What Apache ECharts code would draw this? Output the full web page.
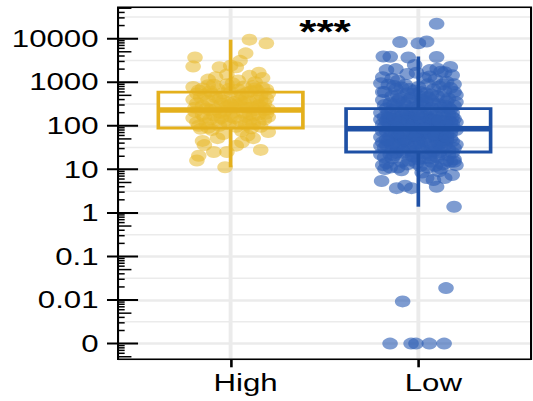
<!DOCTYPE html>
<html>
<head>
<meta charset="utf-8">
<script src="https://cdn.jsdelivr.net/npm/echarts@6/dist/echarts.min.js"></script>
<style>
  html, body { margin: 0; padding: 0; background: #fff; overflow: hidden; }
  /* the figure is drawn narrow and stretched sideways, as in the exported image */
  #chart { width: 410px; height: 401px; transform: scaleX(1.3); transform-origin: 0 0; }
</style>
</head>
<body>
<div id="chart"></div>
<script>
// ---- data -------------------------------------------------------------
const groups = ['High', 'Low'];

// [horizontal jitter offset, value]
const highPoints = [
  [0.10, 9500], [0.19, 7800], [0.08, 4600], [-0.19, 3700], [-0.20, 2300], [-0.06, 2200],
  [0.00, 2400], [0.03, 2200], [0.15, 1650], [-0.08, 1300], [0.13, 1000], [-0.20, 780],
  [0.05, 3100], [0.10, 1400], [-0.12, 1150], [0.17, 1250], [-0.02, 1500],
  [-0.03, 11.2], [-0.18, 16], [-0.17, 20.5], [0.16, 28], [-0.14, 36], [-0.02, 25],
  [-0.09, 25], [0.03, 35], [0.20, 72], [0.12, 52], [-0.07, 52], [0.06, 42], [-0.15, 45],
  [0.09, 60], [-0.04, 65],
  [-0.18, 120], [-0.15, 180], [-0.12, 90], [-0.10, 300], [-0.08, 450], [-0.05, 150],
  [-0.03, 220], [0.00, 600], [0.02, 350], [0.05, 130], [0.07, 800], [0.09, 260],
  [0.12, 170], [0.14, 420], [0.16, 95], [0.18, 330], [0.20, 550], [-0.20, 400],
  [-0.17, 650], [-0.13, 250], [-0.11, 140], [-0.07, 700], [-0.04, 380], [-0.01, 110],
  [0.01, 200], [0.04, 480], [0.06, 270], [0.08, 160], [0.11, 620], [0.13, 230],
  [0.15, 120], [0.17, 750], [0.19, 190], [-0.19, 210], [-0.16, 85], [-0.14, 520],
  [-0.09, 175], [-0.06, 100], [-0.02, 900], [0.03, 300], [0.06, 75], [0.10, 360],
  [0.14, 280], [0.18, 140], [0.20, 240], [-0.18, 330], [-0.12, 850], [-0.08, 240],
  [-0.04, 560], [0.00, 160], [0.04, 680], [0.08, 430], [0.12, 110], [0.16, 500],
  [-0.15, 290], [-0.10, 80], [-0.05, 320], [0.01, 950], [0.07, 200], [0.11, 88],
  [0.15, 300], [-0.20, 150], [-0.16, 450], [-0.03, 130], [0.02, 260], [0.09, 580],
  [0.19, 420], [-0.11, 620], [-0.06, 205], [0.05, 380], [0.13, 720], [-0.01, 340],
  [0.17, 260], [-0.13, 115], [0.10, 185],
  [-0.19, 260], [-0.14, 160], [-0.10, 540], [-0.06, 420], [-0.02, 280], [0.02, 150],
  [0.06, 520], [0.10, 125], [0.14, 650], [0.18, 230], [-0.17, 100], [-0.12, 380],
  [-0.07, 135], [-0.01, 700], [0.03, 95], [0.07, 340], [0.11, 260], [0.15, 180],
  [0.19, 680], [-0.09, 880], [0.04, 1100], [-0.15, 720], [0.12, 820], [-0.04, 190],
  [0.08, 105], [0.16, 380], [-0.18, 550], [0.00, 310], [-0.11, 230], [0.20, 160]
];

const lowPoints = [
  // upper tail
  [0.097, 22000], [-0.098, 8350], [0.00, 7800], [0.044, 8600], [-0.187, 3900], [-0.15, 3850],
  [-0.054, 3700], [0.097, 3800], [0.17, 2250], [0.10, 2050], [0.06, 1900], [-0.12, 2000],
  [0.14, 1700], [-0.02, 2500],
  // lower tail
  [0.19, 1.39], [-0.178, 10.2], [-0.196, 5.4], [-0.116, 3.7], [-0.071, 4.2], [-0.036, 3.7],
  [0.097, 4.0], [0.08, 5.7], [0.14, 6.3], [0.18, 7.4], [0.20, 12.5], [0.19, 15],
  [0.044, 6.3], [0.147, 0.0188], [-0.084, 0.0093],
  [-0.151, 0], [-0.039, 0], [-0.013, 0], [0.058, 0], [0.137, 0],
  // 1000 - 2000
  [-0.17, 1900], [0.12, 1750], [-0.06, 1550], [0.18, 1450], [-0.19, 1300], [0.03, 1250],
  [0.09, 1150], [-0.11, 1080], [0.15, 1020], [-0.01, 1650], [-0.14, 1200], [0.06, 1350],
  // 400 - 1000
  [-0.20, 950], [-0.16, 880], [-0.13, 820], [-0.09, 760], [-0.05, 700], [-0.02, 650],
  [0.01, 600], [0.04, 560], [0.07, 520], [0.10, 480], [0.13, 450], [0.16, 420],
  [0.19, 900], [-0.18, 600], [-0.14, 480], [-0.10, 420], [-0.07, 880], [-0.03, 540],
  [0.00, 780], [0.05, 900], [0.08, 680], [0.11, 800], [0.14, 620], [0.17, 740],
  [0.20, 510], [-0.04, 440], [0.02, 460], [-0.12, 690],
  // 150 - 400
  [-0.19, 390], [-0.17, 250], [-0.15, 330], [-0.13, 180], [-0.11, 370], [-0.09, 220],
  [-0.07, 300], [-0.05, 160], [-0.03, 260], [-0.01, 350], [0.01, 190], [0.03, 280],
  [0.05, 230], [0.07, 380], [0.09, 170], [0.11, 310], [0.13, 210], [0.15, 360],
  [0.17, 240], [0.19, 290], [-0.20, 200], [-0.16, 155], [-0.12, 270], [-0.08, 340],
  [-0.04, 210], [0.00, 240], [0.04, 165], [0.08, 320], [0.12, 260], [0.16, 185],
  [0.20, 350], [-0.18, 300], [-0.14, 230], [-0.06, 190], [0.02, 390], [0.06, 150],
  [0.10, 200], [0.14, 290], [0.18, 160], [-0.10, 160],
  // 60 - 150
  [-0.20, 140], [-0.18, 95], [-0.16, 120], [-0.14, 70], [-0.12, 130], [-0.10, 85],
  [-0.08, 110], [-0.06, 65], [-0.04, 145], [-0.02, 90], [0.00, 125], [0.02, 75],
  [0.04, 100], [0.06, 140], [0.08, 80], [0.10, 115], [0.12, 62], [0.14, 105],
  [0.16, 135], [0.18, 88], [0.20, 120], [-0.19, 75], [-0.15, 105], [-0.11, 60],
  [-0.07, 125], [-0.03, 80], [0.01, 60], [0.05, 90], [0.09, 135], [0.13, 78],
  [0.17, 68], [-0.17, 130], [-0.13, 88], [-0.09, 140], [-0.05, 98], [-0.01, 70],
  [0.03, 120], [0.07, 108], [0.11, 92], [0.15, 64], [0.19, 145], [-0.12, 100],
  [-0.02, 135], [0.08, 72], [0.18, 112], [-0.06, 82], [0.03, 66], [0.14, 128],
  // 25 - 60
  [-0.20, 55], [-0.18, 32], [-0.16, 45], [-0.14, 28], [-0.12, 50], [-0.10, 38],
  [-0.08, 27], [-0.06, 42], [-0.04, 58], [-0.02, 35], [0.00, 48], [0.02, 30],
  [0.04, 52], [0.06, 40], [0.08, 26], [0.10, 46], [0.12, 34], [0.14, 56],
  [0.16, 29], [0.18, 44], [0.20, 37], [-0.19, 42], [-0.15, 58], [-0.11, 30],
  [-0.07, 48], [-0.03, 26], [0.01, 40], [0.05, 33], [0.09, 55], [0.13, 42],
  [0.17, 52], [-0.17, 36], [-0.13, 40], [-0.09, 52], [-0.05, 31], [-0.01, 57],
  [0.03, 44], [0.07, 28], [0.11, 38], [0.15, 47], [0.19, 31], [-0.08, 45],
  // 8 - 25
  [-0.20, 22], [-0.17, 14], [-0.14, 18], [-0.11, 11], [-0.08, 24], [-0.05, 16],
  [-0.02, 20], [0.01, 12], [0.04, 23], [0.07, 15], [0.10, 19], [0.13, 13],
  [0.16, 21], [0.19, 17], [-0.18, 19], [-0.12, 24], [-0.06, 13], [0.00, 17],
  [0.06, 21], [0.12, 10.5], [0.18, 24], [-0.15, 11], [-0.09, 15], [-0.03, 23],
  [0.03, 18], [0.09, 12], [0.15, 16], [-0.19, 12.5], [-0.01, 14], [0.11, 22],
  [-0.13, 21], [0.05, 11], [-0.09, 9.5], [0.02, 8.5], [0.11, 9],
  // further points across the dense core
  [-0.19, 600], [-0.15, 150], [-0.11, 90], [-0.07, 45], [-0.03, 20], [0.01, 320],
  [0.05, 70], [0.09, 35], [0.13, 170], [0.17, 15], [0.19, 600], [-0.17, 75],
  [-0.13, 310], [-0.09, 28], [-0.05, 130], [-0.01, 40], [0.03, 200], [0.07, 60],
  [0.11, 25], [0.15, 100], [-0.20, 35], [-0.16, 200], [-0.12, 65], [-0.08, 180],
  [-0.04, 90], [0.00, 30], [0.04, 350], [0.08, 140], [0.12, 48], [0.16, 260],
  [0.20, 80], [-0.18, 160], [-0.14, 38], [-0.10, 120], [-0.06, 550], [-0.02, 60],
  [0.02, 110], [0.06, 18], [0.10, 75], [0.14, 36], [0.18, 200], [-0.19, 110],
  [-0.15, 22], [-0.11, 500], [-0.07, 230], [-0.03, 100], [0.01, 150], [0.05, 450],
  [0.09, 62], [0.13, 900], [0.17, 120], [-0.17, 48], [-0.13, 140], [-0.09, 68],
  [-0.05, 380], [-0.01, 180], [0.03, 85], [0.07, 250], [0.11, 130], [0.15, 55]
];

// box statistics: [lower whisker, Q1, median, Q3, upper whisker]
const highBox = [11.2, 89, 229, 590, 9500];
const lowBox = [1.39, 25, 86, 247, 3900];

const yTickValues = [0.001, 0.01, 0.1, 1, 10, 100, 1000, 10000];
const yTickLabels = ['0', '0.01', '0.1', '1', '10', '100', '1000', '10000'];
const zeroFloor = 0.001;          // zero values sit on the "0" row
const significance = '***';

// ---- styling ----------------------------------------------------------
const FONT = "'Liberation Sans', Arial, Helvetica, sans-serif";
const pointColors = ['#E8B828', '#2F60B4'];
const boxColors = ['#E4B01C', '#1E50A5'];
const yMin = Math.pow(10, -3.36), yMax = Math.pow(10, 4.72);
const W = 410, H = 401;
const plot = { left: 90.8, top: 7.3, right: 408.5, bottom: 359.3 };
const bandGrid = { left: 105.2, right: 16 };

const chart = echarts.init(document.getElementById('chart'), null, { renderer: 'svg', width: W, height: H });

function yLabel(v) {
  const e = Math.log10(v), r = Math.round(e);
  if (Math.abs(e - r) > 1e-6) return '';
  const i = yTickValues.findIndex(t => Math.abs(Math.log10(t) - r) < 1e-6);
  return i < 0 ? '' : yTickLabels[i];
}

const jittered = (pts, centre) => pts.map(([dx, v]) => [centre + dx, Math.max(v, zeroFloor)]);

chart.setOption({
  animation: false,
  grid: [
    { left: plot.left, top: plot.top, right: W - plot.right, bottom: H - plot.bottom, containLabel: false },
    { left: bandGrid.left, top: plot.top, right: bandGrid.right, bottom: H - plot.bottom, containLabel: false }
  ],
  xAxis: [
    { type: 'value', gridIndex: 0, min: 0.4, max: 2.6, show: false },
    {
      type: 'category', gridIndex: 1, data: groups, boundaryGap: true,
      axisLine: { show: false },
      axisTick: { show: true, alignWithLabel: true, length: 8, lineStyle: { color: '#000', width: 2 } },
      axisLabel: { color: '#000', fontSize: 24, fontFamily: FONT, margin: 12, padding: [0, 0, 0, 23] },
      splitLine: { show: false }
    }
  ],
  yAxis: [
    {
      type: 'log', logBase: 10, gridIndex: 0, min: yMin, max: yMax,
      axisLine: { show: false }, axisTick: { show: false },
      axisLabel: { color: '#000', fontSize: 24, fontFamily: FONT, margin: 15,
                   showMinLabel: false, showMaxLabel: false, formatter: yLabel },
      splitLine: { show: true, lineStyle: { color: '#EBEBEB', width: 2.5 } }
    },
    { type: 'log', logBase: 10, gridIndex: 1, min: yMin, max: yMax, show: false }
  ],
  series: [
    {
      name: 'High', type: 'scatter', xAxisIndex: 0, yAxisIndex: 0, silent: true, z: 2,
      data: jittered(highPoints, 1), symbolSize: 12,
      itemStyle: { color: pointColors[0], opacity: 0.55 }
    },
    {
      name: 'Low', type: 'scatter', xAxisIndex: 0, yAxisIndex: 0, silent: true, z: 2,
      data: jittered(lowPoints, 2), symbolSize: 12,
      itemStyle: { color: pointColors[1], opacity: 0.62 }
    },
    {
      name: 'box', type: 'custom', xAxisIndex: 1, yAxisIndex: 1, silent: true, z: 5,
      encode: { x: 0, y: [1, 2, 3, 4, 5] },
      data: [[0].concat(highBox), [1].concat(lowBox)],
      renderItem: function (params, api) {
        const idx = api.value(0);
        const cx = api.coord([idx, api.value(3)])[0];
        const half = api.size([1, 0])[0] * 0.385;
        const yLo = api.coord([idx, api.value(1)])[1];
        const yQ1 = api.coord([idx, api.value(2)])[1];
        const yMed = api.coord([idx, api.value(3)])[1];
        const yQ3 = api.coord([idx, api.value(4)])[1];
        const yHi = api.coord([idx, api.value(5)])[1];
        const c = boxColors[idx];
        const st = { stroke: c, lineWidth: 2.8, fill: null };
        return {
          type: 'group',
          children: [
            { type: 'line', shape: { x1: cx, y1: yHi, x2: cx, y2: yQ3 }, style: st },
            { type: 'line', shape: { x1: cx, y1: yQ1, x2: cx, y2: yLo }, style: st },
            { type: 'rect', shape: { x: cx - half, y: yQ3, width: 2 * half, height: yQ1 - yQ3 }, style: st },
            { type: 'line', shape: { x1: cx - half, y1: yMed, x2: cx + half, y2: yMed },
              style: { stroke: c, lineWidth: 5.5 } }
          ]
        };
      }
    }
  ]
});

// ---- panel decorations: minor grid, category grid, log ticks, frame ----
const yPx = v => chart.convertToPixel({ yAxisIndex: 0 }, v);
const elems = [];

for (let k = -4; k <= 4; k++) {
  const v = Math.pow(10, k + 0.5);
  if (v <= yMin || v >= yMax) continue;
  const y = yPx(v);
  elems.push({ type: 'line', z: 0, silent: true,
    shape: { x1: plot.left, y1: y, x2: plot.right, y2: y },
    style: { stroke: '#EBEBEB', lineWidth: 1.5 } });
}

groups.forEach(g => {
  const x = chart.convertToPixel({ xAxisIndex: 1 }, g);
  elems.push({ type: 'line', z: 0, silent: true,
    shape: { x1: x, y1: plot.top, x2: x, y2: plot.bottom },
    style: { stroke: '#EBEBEB', lineWidth: 3 } });
});

for (let k = -4; k <= 4; k++) {
  for (let m = 1; m <= 9; m++) {
    const v = m * Math.pow(10, k);
    if (v <= yMin || v >= yMax) continue;
    const y = yPx(v);
    const len = m === 1 ? 15.4 : (m === 5 ? 10.3 : 5.1);
    const x1 = m === 1 ? plot.left - 8.5 : plot.left;
    elems.push({ type: 'line', z: 20, silent: true,
      shape: { x1: x1, y1: y, x2: plot.left + len, y2: y },
      style: { stroke: '#000', lineWidth: m === 1 ? 2 : 1.5 } });
  }
}

elems.push({ type: 'rect', z: 21, silent: true,
  shape: { x: plot.left, y: plot.top, width: plot.right - plot.left, height: plot.bottom - plot.top },
  style: { fill: null, stroke: '#000', lineWidth: 1.6 } });

elems.push({ type: 'text', z: 22, silent: true, x: 250, y: 31,
  style: { text: significance, fontSize: 34, fontWeight: 'bold', fontFamily: FONT, fill: '#000',
           align: 'center', verticalAlign: 'middle' } });

chart.setOption({ graphic: { elements: elems } });
</script>
</body>
</html>
